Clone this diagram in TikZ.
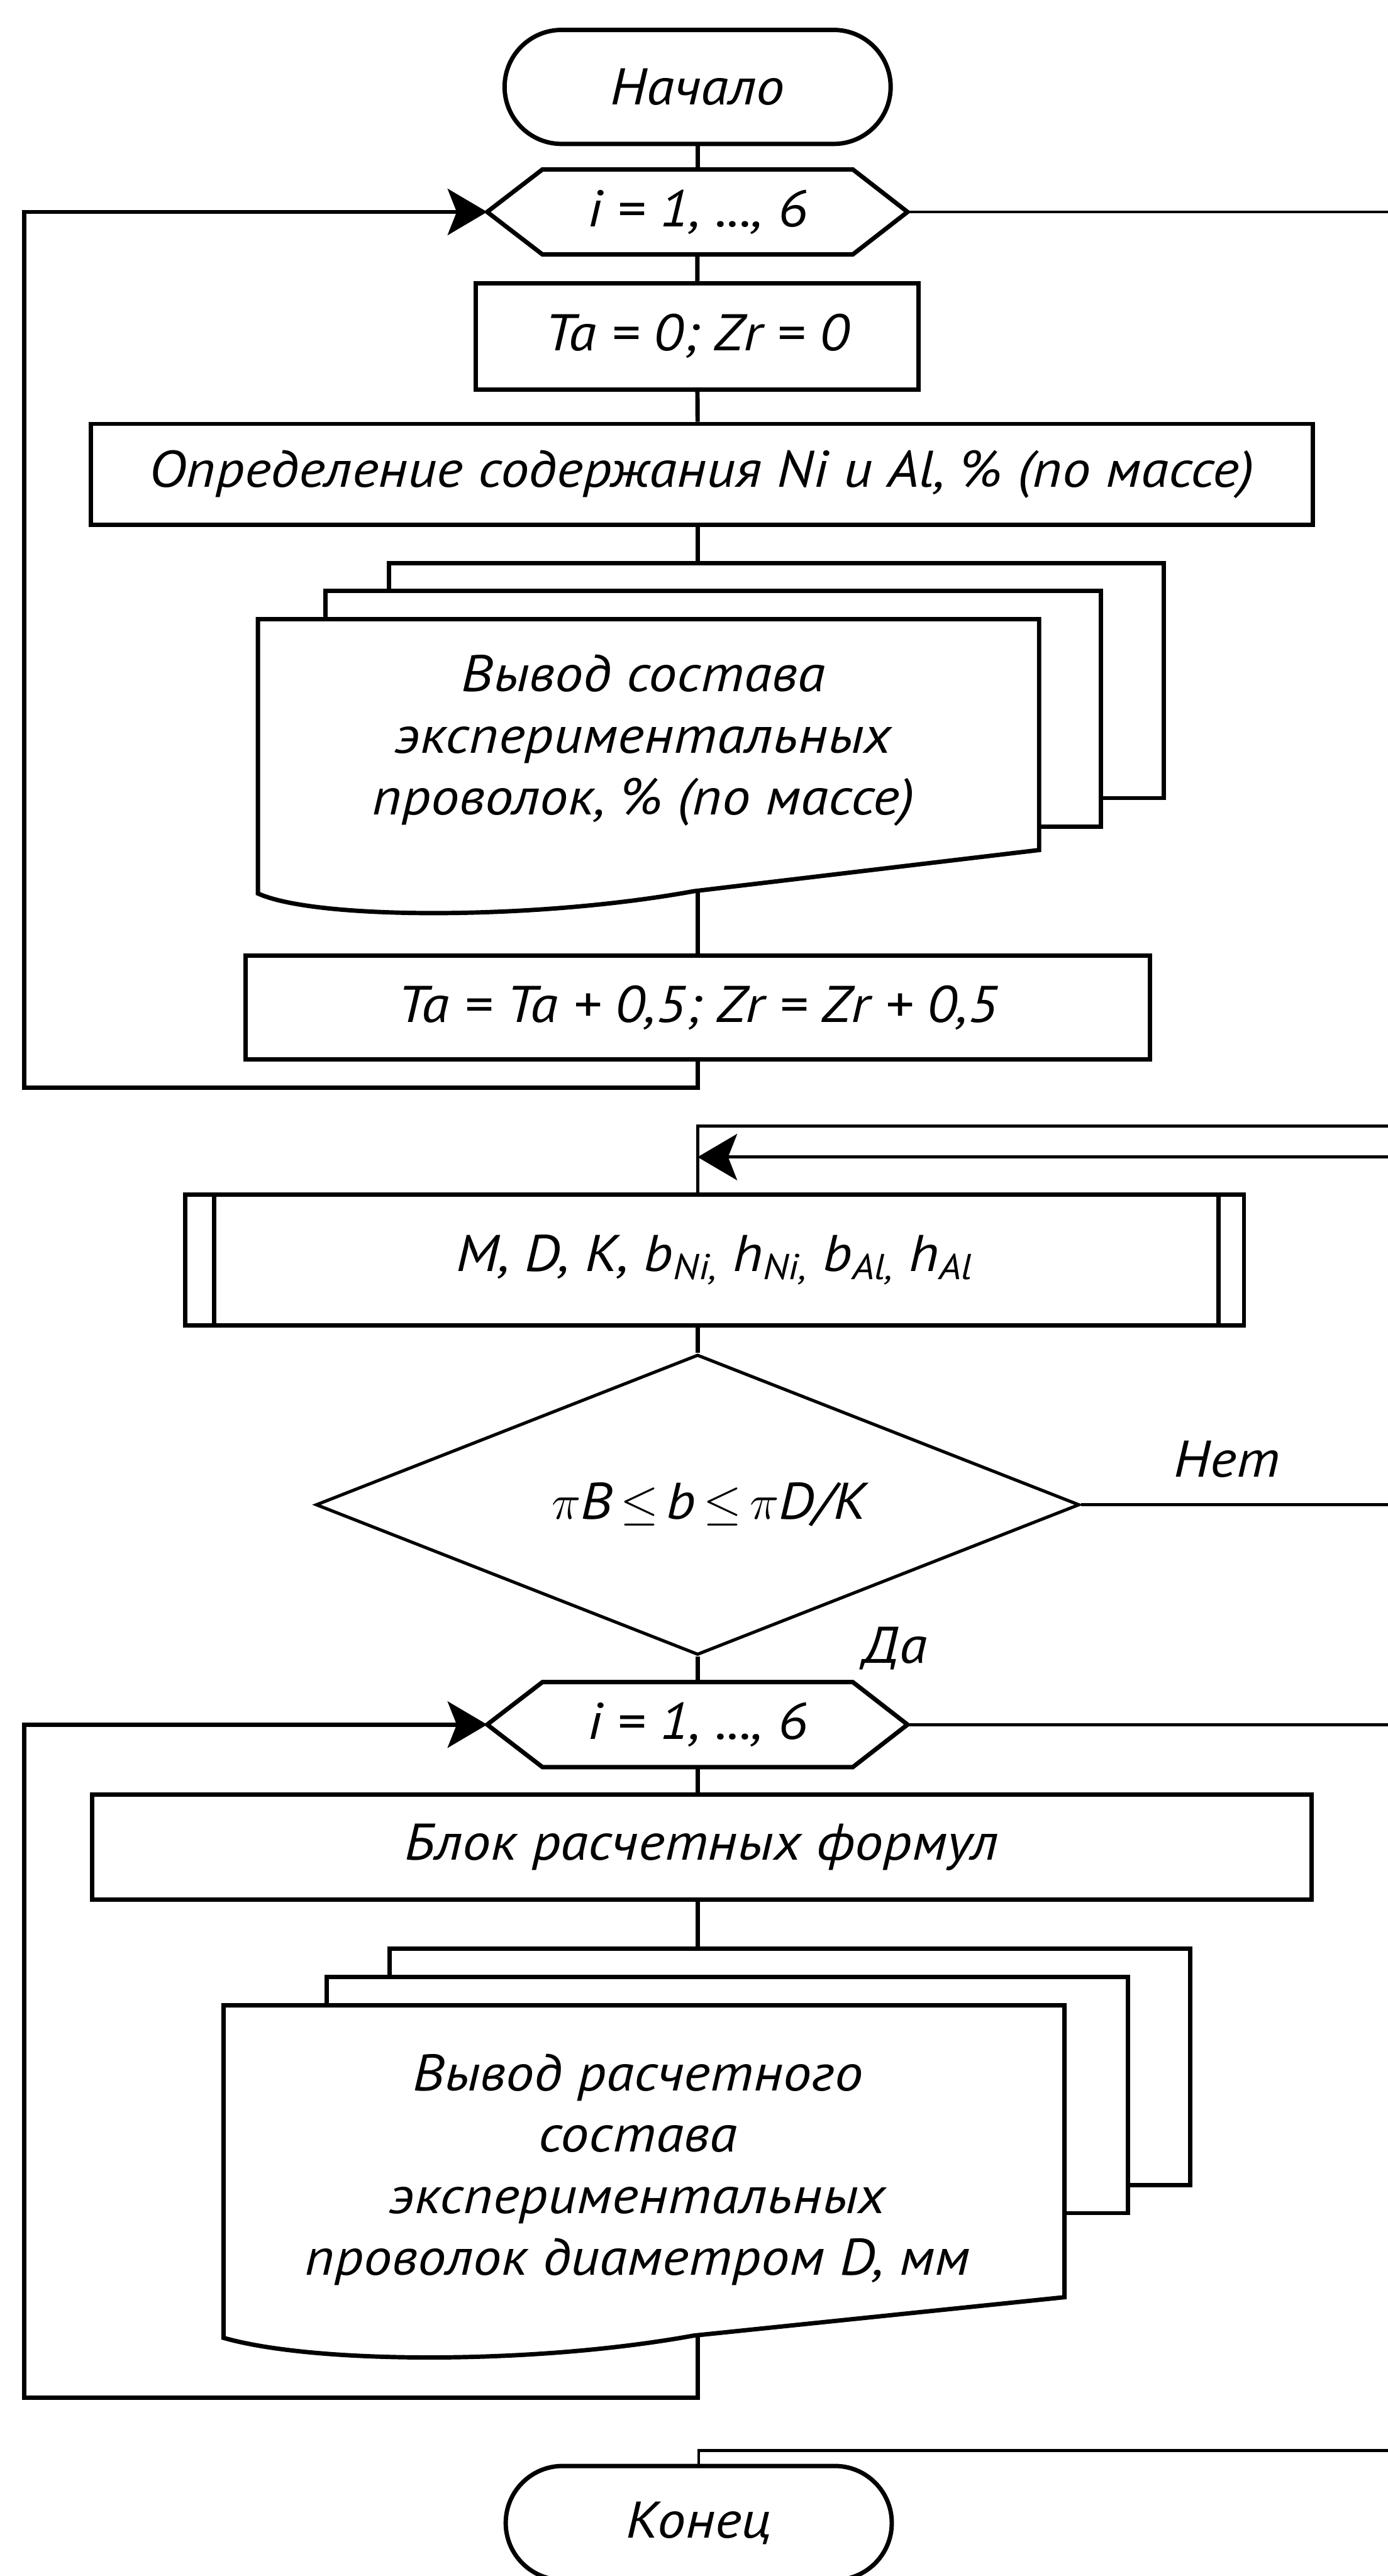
\documentclass[tikz,border=0pt]{standalone}
\usepackage{fontspec}
\setmainfont{PT Sans}[FakeStretch=1.1]
\usetikzlibrary{positioning, arrows.meta, shapes.geometric}

% outline of a loop limit around its text node
\newcommand{\hexframe}[1]{%
  \draw (#1.north west) -- (#1.north east) -- ([xshift=0.97cm]#1.east)
    -- (#1.south east) -- (#1.south west) -- ([xshift=-0.98cm]#1.west) -- cycle;}

\begin{document}
\begin{tikzpicture}[
        line width=2.2pt,
        every node/.style={font=\fontsize{26}{31}\selectfont\itshape},
        term/.style={draw, rectangle, rounded corners=1.01cm, minimum width=6.84cm, minimum height=2.02cm},
        block/.style={draw, rectangle, inner sep=0pt},
        loophex/.style={rectangle, minimum width=5.42cm, minimum height=1.43cm, inner sep=0pt},
        sheet/.style={draw, fill=white, rectangle, inner sep=0pt},
        doctext/.style={align=center, inner sep=0pt},
        cond/.style={draw, diamond, aspect=2.54, line width=1.6pt, minimum width=13.53cm, minimum height=5.32cm, inner sep=0pt},
        exitline/.style={line width=1.5pt},
        arrow/.style={-{Stealth[length=7mm, width=8.2mm, inset=1.6mm]}}
    ]
    \useasboundingbox (0,0) rectangle (24.59,-45.64);

    % first loop
    \node[term] (start) at (12.36,-1.54) {Начало};
    \node[loophex] (loop1) at (12.36,-3.755) {i = 1, ..., 6};
    \hexframe{loop1}
    \coordinate (loop1in) at ([xshift=-0.98cm]loop1.west);
    \coordinate (loop1out) at ([xshift=0.97cm]loop1.east);
    \node[block, minimum width=7.84cm, minimum height=1.88cm] (init) at (12.35,-5.96) {Ta = 0; Zr = 0};
    \node[block, minimum width=21.65cm, minimum height=1.79cm] (meas) at (12.435,-8.405) {Определение содержания Ni и Al, \% (по массе)};

    \node[sheet, minimum width=13.73cm, minimum height=4.16cm] (out1c) at (13.755,-12.06) {};
    \node[sheet, minimum width=13.74cm, minimum height=4.18cm] (out1b) at (12.64,-12.56) {};
    \draw[fill=white] (4.57,-10.97) -- (18.41,-10.97) -- (18.41,-15.06) -- (12.29,-15.79)
        .. controls (9.5,-16.3) and (5.6,-16.3) .. (4.57,-15.83) -- cycle;
    \node[doctext] (out1) at (11.40,-13.12) {Вывод состава\\экспериментальных\\проволок, \% (по массе)};
    \coordinate (out1end) at (12.36,-15.78);

    \node[block, minimum width=16.02cm, minimum height=1.84cm] (incr) at (12.36,-17.85) {Ta = Ta + 0,5; Zr = Zr + 0,5};
    \coordinate (back1) at (0.43,-19.27);

    \draw (start) -- (loop1);
    \draw (loop1) -- (init);
    \draw (init) -- (start |- meas.north);
    \draw (start |- meas.south) -- (start |- out1c.north);
    \draw (out1end) -- (start |- incr.north);
    \draw[arrow] (incr.south) |- (back1) |- (loop1in);
    \coordinate (exit1) at (24.7,-3.755);
    \draw[exitline] (loop1out) -- (exit1);

    % input and check
    \coordinate (ret1) at (24.7,-19.95);
    \coordinate (ret2) at (24.7,-20.50);
    \node[block, minimum width=18.76cm, minimum height=2.32cm] (data) at (12.66,-22.32)
        {M, D, K, b\textsubscript{Ni,} h\textsubscript{Ni,} b\textsubscript{Al,} h\textsubscript{Al}};
    \draw ([xshift=0.55cm]data.north west) -- ([xshift=0.55cm]data.south west);
    \draw ([xshift=-0.49cm]data.north east) -- ([xshift=-0.49cm]data.south east);
    \draw[exitline] (ret1) -| (start |- data.north);
    \draw[exitline, arrow] (ret2) -- (start |- ret2);

    \node[cond] (check) at (12.36,-26.66) {\hspace{0.4cm}$\pi$B\hspace{0.15em}$\leq$\hspace{0.15em}b\hspace{0.15em}$\leq$\hspace{0.15em}$\pi$D/K};
    \draw (start |- data.south) -- (check.north);
    \node (no) at (21.74,-25.85) {Нет};
    \node (yes) at (15.86,-29.2) {Да};
    \coordinate (exit3) at (24.7,-26.66);
    \draw[exitline] (check.east) -- (exit3);

    % second loop
    \node[loophex] (loop2) at (12.36,-30.555) {i = 1, ..., 6};
    \hexframe{loop2}
    \coordinate (loop2in) at ([xshift=-0.98cm]loop2.west);
    \coordinate (loop2out) at ([xshift=0.97cm]loop2.east);
    \node[block, minimum width=21.61cm, minimum height=1.86cm] (calc) at (12.435,-32.73) {Блок расчетных формул};

    \node[sheet, minimum width=14.19cm, minimum height=4.19cm] (out2c) at (13.995,-36.615) {};
    \node[sheet, minimum width=14.19cm, minimum height=4.18cm] (out2b) at (12.885,-37.12) {};
    \draw[fill=white] (3.96,-35.53) -- (18.86,-35.53) -- (18.86,-40.70) -- (12.29,-41.38)
        .. controls (9.5,-41.89) and (5.6,-41.89) .. (3.96,-41.42) -- cycle;
    \node[doctext] (out2) at (11.30,-38.44) {Вывод расчетного\\состава\\экспериментальных\\проволок диаметром D, мм};
    \coordinate (out2end) at (12.36,-41.37);
    \coordinate (back2) at (0.43,-42.48);

    \draw (check.south) -- (loop2.north);
    \draw (loop2.south) -- (loop2.south |- calc.north);
    \draw (loop2.south |- calc.south) -- (loop2.south |- out2c.north);
    \draw[arrow] (out2end) |- (back2) |- (loop2in);
    \coordinate (exit2) at (24.7,-30.555);
    \draw[exitline] (loop2out) -- (exit2);

    % end
    \coordinate (exit4) at (24.7,-43.42);
    \node[term] (stop) at (12.38,-44.70) {Конец};
    \draw[exitline] (exit4) -| (stop.north);
\end{tikzpicture}
\end{document}
